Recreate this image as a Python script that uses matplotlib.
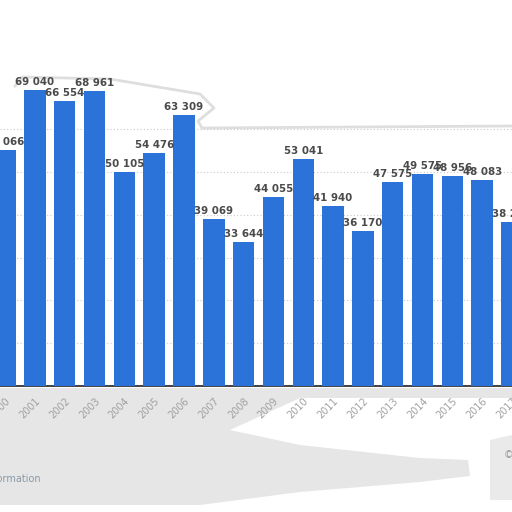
import matplotlib.pyplot as plt
from matplotlib.patches import Polygon
from matplotlib.lines import Line2D

years = [str(y) for y in range(2000, 2018)]
values = [55066, 69040, 66554, 68961, 50105, 54476, 63309, 39069, 33644,
          44055, 53041, 41940, 36170, 47575, 49575, 48956, 48083, 38250]
labels = ['55 066', '69 040', '66 554', '68 961', '50 105', '54 476', '63 309',
          '39 069', '33 644', '44 055', '53 041', '41 940', '36 170', '47 575',
          '49 575', '48 956', '48 083', '38 250']

W = 512.0


def fpt(x, y):
    return (x / W, 1 - y / W)


fig = plt.figure(figsize=(5.12, 5.12), dpi=100)
fig.patch.set_facecolor('white')

# soft grey smudges around the chart
blob = [(0, 388), (512, 388), (512, 398), (300, 398), (230, 430), (300, 445),
        (420, 458), (468, 460), (470, 476), (420, 482), (300, 492),
        (200, 505), (0, 505)]
fig.patches.append(Polygon([fpt(x, y) for x, y in blob], closed=True,
                           transform=fig.transFigure, facecolor='#e6e6e6',
                           edgecolor='none', zorder=0))
blob2 = [(490, 440), (512, 435), (512, 500), (490, 500)]
fig.patches.append(Polygon([fpt(x, y) for x, y in blob2], closed=True,
                           transform=fig.transFigure, facecolor='#eaeaea',
                           edgecolor='none', zorder=0))

# faint outline near the top of the panel
outline = [(15, 86), (22, 77), (110, 79), (200, 94), (214, 108), (198, 121),
           (202, 128), (512, 126)]
fig.add_artist(Line2D([fpt(a, b)[0] for a, b in outline],
                      [fpt(a, b)[1] for a, b in outline],
                      transform=fig.transFigure, color='#dedede',
                      linewidth=2, zorder=0.5))

ax = fig.add_axes([0.0, 0.246, 1.0, 0.669])
ax.set_zorder(2)
ax.set_facecolor('none')
x = list(range(len(years)))
bars = ax.bar(x, values, width=0.72, color='#2b73d9', zorder=3)
for b, lab in zip(bars, labels):
    ax.text(b.get_x() + b.get_width() / 2, b.get_height() + 700, lab,
            ha='center', va='bottom', fontsize=7.4, fontweight='bold',
            color='#4a4a4a', zorder=4)

ax.set_xlim(-0.17, 17.0)
ax.set_ylim(0, 80000)
ax.set_yticks(range(10000, 70000, 10000))
ax.yaxis.grid(True, linestyle=(0, (1, 2)), color='#c8c8c8', linewidth=0.8,
              zorder=0)
ax.tick_params(axis='y', left=False, labelleft=False)
ax.set_xticks(x)
ax.set_xticklabels(years, rotation=45, ha='right', rotation_mode='anchor',
                   fontsize=7, color='#a0a0a0')
ax.tick_params(axis='x', length=0, pad=7)
for s in ['top', 'right', 'left']:
    ax.spines[s].set_visible(False)
ax.spines['bottom'].set_color('#222222')
ax.spines['bottom'].set_linewidth(1.2)

fig.text(41 / W, 1 - 479 / W, 'Additional Information', ha='right',
         va='center', fontsize=7, color='#8a9aa8')
fig.text(504 / W, 1 - 455 / W, '\u00a9 Statista 2018', ha='left',
         va='center', fontsize=7, color='#999999')

fig.savefig('out.png', dpi=100)
